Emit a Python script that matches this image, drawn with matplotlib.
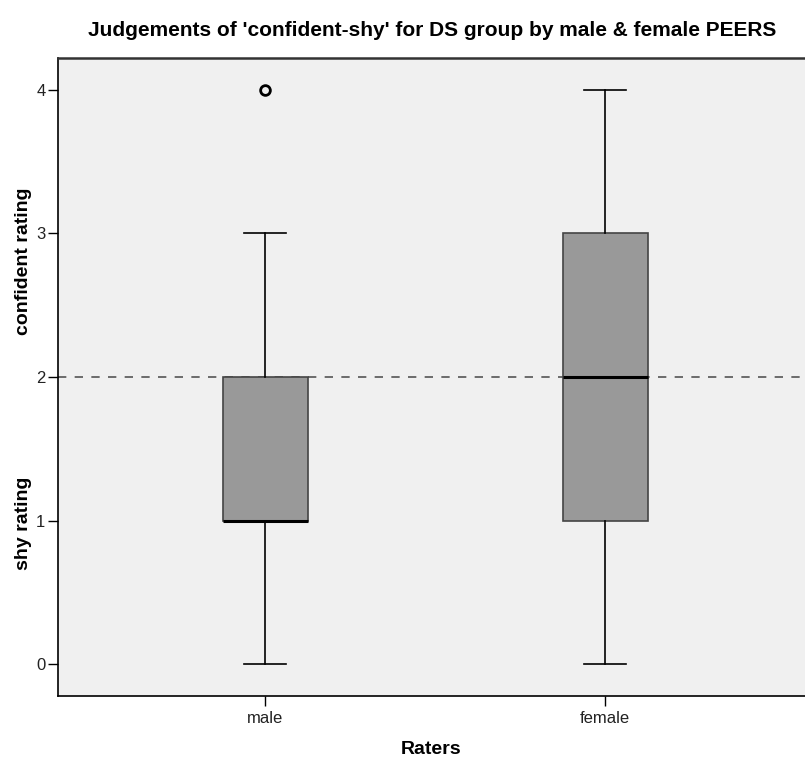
import matplotlib.pyplot as plt

plt.rcParams['font.family'] = ['Liberation Sans', 'DejaVu Sans']

# Rating summaries per rater group
raters = ["male", "female"]
whisker_low = [0, 0]
q1 = [1, 1]
medians = [1, 2]
q3 = [2, 3]
whisker_high = [3, 4]
outliers = [[4], []]
y_ticks = [0, 1, 2, 3, 4]
midpoint = 2

stats = []
for i in range(len(raters)):
    stats.append(dict(label=raters[i], whislo=whisker_low[i], q1=q1[i], med=medians[i],
                      q3=q3[i], whishi=whisker_high[i], fliers=outliers[i]))

fig = plt.figure(figsize=(8.05, 7.6), dpi=100)
ax = fig.add_axes([0.072, 0.0842, 0.928, 0.8395])
ax.set_facecolor('#f0f0f0')

ax.axhline(midpoint, color='#555555', lw=1.2, ls=(0, (5, 5)), zorder=1)

ax.bxp(stats, positions=[1, 2], widths=0.25, patch_artist=True, showcaps=True,
       boxprops=dict(facecolor='#999999', edgecolor='#444444', lw=1.2),
       medianprops=dict(color='black', lw=2.2),
       whiskerprops=dict(color='black', lw=1.2),
       capprops=dict(color='black', lw=1.2),
       capwidths=0.125,
       flierprops=dict(marker='o', markerfacecolor='none', markeredgecolor='black',
                       markeredgewidth=2, markersize=7),
       zorder=3)

ax.set_xlim(0.391, 2.588)
ax.set_ylim(-0.223, 4.223)
ax.set_yticks(y_ticks)
ax.set_xticks([1, 2])
ax.set_xticklabels(raters)
ax.tick_params(labelsize=12, length=7, width=1, color='black', labelcolor='#222222')
ax.tick_params(axis='y', pad=2)

ax.spines['right'].set_visible(False)
ax.spines['top'].set_linewidth(1.8)
ax.spines['top'].set_color('#333333')
for s in ['left', 'bottom']:
    ax.spines[s].set_linewidth(1.2)

ax.set_xlabel("Raters", fontsize=14, fontweight='bold', labelpad=11)
fig.text(0.0286, 1 - 261 / 760, "confident rating", rotation=90, fontsize=14,
         fontweight='bold', ha='center', va='center')
fig.text(0.0286, 1 - 523 / 760, "shy rating", rotation=90, fontsize=14,
         fontweight='bold', ha='center', va='center')
fig.suptitle("Judgements of 'confident-shy' for DS group by male & female PEERS",
             x=0.537, y=1 - 31 / 760, va='center', fontsize=15, fontweight='bold')

fig.savefig("out.png", dpi=100)
